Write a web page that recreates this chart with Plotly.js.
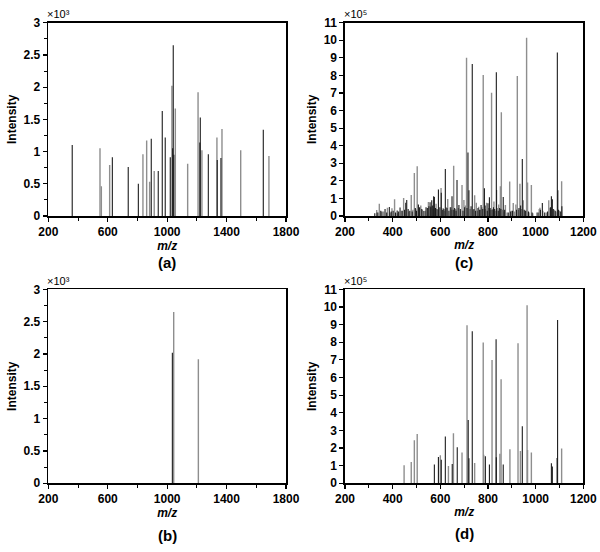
<!DOCTYPE html>
<html>
<head>
<meta charset="utf-8">
<script src="https://cdn.plot.ly/plotly-3.0.1.min.js"></script>
<style>html,body{margin:0;padding:0;background:#fff;}#chart{width:600px;height:552px;}</style>
</head>
<body>
<div id="chart"></div>
<script>
// ---- Panel (a): intensity ×10^3 ----
var aDarkMz  = [361, 631, 738, 806, 893, 940, 967, 987, 1021, 1037, 1041, 1045, 1220, 1223, 1277, 1337, 1362, 1647];
var aDarkInt = [1.10, 0.91, 0.76, 0.50, 1.20, 0.70, 1.63, 1.22, 0.91, 1.05, 2.65, 0.95, 1.14, 1.53, 0.96, 0.87, 0.90, 1.34];
var aGrayMz  = [548, 557, 613, 837, 862, 882, 913, 1032, 1055, 1138, 1208, 1234, 1335, 1369, 1495, 1685];
var aGrayInt = [1.05, 0.46, 0.79, 0.96, 1.17, 0.53, 0.70, 2.02, 1.67, 0.81, 1.92, 1.02, 1.22, 1.35, 1.02, 0.93];

// ---- Panel (b): intensity ×10^3 ----
var bDarkMz  = [1035];
var bDarkInt = [2.02];
var bGrayMz  = [1044, 1210];
var bGrayInt = [2.65, 1.92];

// ---- Panel (c): intensity ×10^5 ----
var cGrayMz  = [333, 340, 344, 362, 378, 390, 397, 408, 420, 437, 446, 468, 478, 485, 491, 497, 503, 518, 525, 537, 545, 550, 560, 570, 582, 590, 603, 612, 617, 625, 631, 641, 646, 656, 664, 676, 685, 691, 699, 705, 710, 725, 738, 744, 751, 756, 761, 768, 775, 780, 790, 794, 803, 811, 815, 820, 825, 830, 841, 845, 852, 856, 860, 868, 873, 880, 891, 898, 906, 912, 917, 923, 928, 934, 940, 948, 955, 962, 966, 972, 982, 988, 1005, 1015, 1018, 1030, 1045, 1055, 1060, 1078, 1085, 1100, 1109];
var cGrayInt = [0.34, 0.20, 0.70, 0.25, 0.47, 0.20, 0.44, 0.95, 0.15, 0.30, 1.02, 0.25, 1.20, 0.35, 2.45, 0.40, 2.83, 0.60, 0.35, 0.30, 0.45, 0.80, 0.55, 0.40, 0.70, 0.35, 1.59, 0.45, 0.30, 0.50, 0.97, 0.50, 0.35, 2.86, 0.40, 0.45, 0.30, 1.77, 0.91, 0.60, 9.00, 0.40, 0.35, 1.18, 0.76, 0.30, 0.53, 0.35, 0.50, 8.02, 0.40, 0.76, 0.45, 0.35, 7.02, 0.40, 0.82, 0.30, 0.45, 0.66, 1.69, 5.90, 0.35, 0.25, 0.63, 0.20, 1.96, 0.30, 0.74, 0.25, 0.66, 7.97, 0.35, 1.84, 0.40, 0.89, 0.30, 10.15, 1.90, 0.20, 1.77, 0.15, 0.20, 0.40, 0.47, 0.30, 0.20, 0.89, 0.45, 0.35, 0.25, 0.30, 1.98];
var cDarkMz  = [325, 335, 350, 355, 368, 375, 386, 394, 402, 412, 419, 425, 431, 440, 450, 455, 459, 465, 472, 482, 495, 500, 508, 513, 522, 531, 540, 547, 552, 557, 560, 564, 568, 572, 575, 580, 586, 592, 598, 604, 610, 615, 621, 628, 636, 644, 649, 654, 660, 666, 670, 678, 684, 695, 702, 712, 716, 720, 729, 734, 741, 748, 758, 765, 771, 778, 785, 788, 797, 800, 806, 809, 817, 823, 828, 835, 836, 843, 849, 854, 864, 870, 885, 895, 903, 920, 930, 937, 944, 952, 958, 970, 985, 1010, 1020, 1028, 1038, 1050, 1062, 1066, 1070, 1074, 1082, 1091, 1093, 1096, 1105, 1110];
var cDarkInt = [0.15, 0.20, 0.30, 0.25, 0.40, 0.20, 0.51, 0.25, 0.30, 0.20, 0.32, 0.25, 0.49, 0.30, 0.35, 0.76, 0.91, 0.40, 0.30, 0.25, 0.45, 0.30, 0.65, 0.50, 0.40, 0.28, 0.50, 0.45, 0.55, 0.78, 0.50, 0.90, 0.60, 1.12, 1.08, 0.45, 0.40, 1.51, 0.50, 1.33, 0.35, 0.40, 2.67, 0.45, 0.30, 0.50, 1.12, 0.35, 0.45, 0.30, 2.05, 0.63, 0.40, 0.30, 0.50, 0.45, 3.62, 1.46, 0.55, 8.65, 0.40, 0.30, 0.45, 0.35, 0.63, 0.40, 1.58, 0.60, 0.30, 0.72, 1.06, 0.45, 0.35, 0.50, 0.40, 8.18, 1.48, 0.30, 0.45, 0.40, 1.08, 0.35, 0.20, 0.25, 0.30, 0.35, 0.45, 0.60, 3.24, 0.35, 0.30, 0.25, 0.20, 0.20, 0.35, 0.74, 0.20, 0.25, 0.50, 1.13, 0.96, 0.40, 0.30, 9.30, 1.46, 0.35, 0.25, 0.55];

// ---- Panel (d): intensity ×10^5 ----
var dGrayMz  = [448, 478, 491, 503, 600, 634, 655, 691, 712, 744, 780, 782, 817, 850, 855, 892, 926, 936, 964, 966, 982, 1109];
var dGrayInt = [1.02, 1.21, 2.44, 2.80, 1.59, 0.98, 2.84, 1.74, 8.96, 1.15, 7.98, 1.62, 6.99, 1.68, 5.90, 1.93, 7.94, 1.83, 10.09, 1.88, 1.74, 1.97];
var dDarkMz  = [575, 592, 604, 621, 650, 671, 717, 720, 734, 789, 806, 834, 835, 864, 944, 1066, 1070, 1090, 1092];
var dDarkInt = [1.06, 1.49, 1.34, 2.65, 1.10, 2.04, 3.59, 1.42, 8.62, 1.53, 1.06, 8.17, 1.47, 1.06, 3.23, 1.13, 0.95, 1.44, 9.26];

// labels
var panelLabels = ['(a)', '(b)', '(c)', '(d)'];
var xLabel = 'm/z';
var yLabel = 'Intensity';
var expA = '×10³';
var expC = '×10⁵';

var DARK = '#1c1c1c', GRAY = '#8e8e8e';

function stems(mz, it, color, xa, ya, w) {
  var x = [], y = [];
  for (var i = 0; i < mz.length; i++) { x.push(mz[i], mz[i], null); y.push(0, it[i], null); }
  return {type: 'scatter', mode: 'lines', x: x, y: y, xaxis: xa, yaxis: ya,
          line: {color: color, width: w}, hoverinfo: 'skip', showlegend: false, connectgaps: false};
}

var traces = [
  stems(aGrayMz, aGrayInt, GRAY, 'x', 'y', 1.4),
  stems(aDarkMz, aDarkInt, DARK, 'x', 'y', 1.1),
  stems(cGrayMz, cGrayInt, GRAY, 'x2', 'y2', 1.4),
  stems(cDarkMz, cDarkInt, DARK, 'x2', 'y2', 1.1),
  stems(bGrayMz, bGrayInt, GRAY, 'x3', 'y3', 1.4),
  stems(bDarkMz, bDarkInt, DARK, 'x3', 'y3', 1.1),
  stems(dGrayMz, dGrayInt, GRAY, 'x4', 'y4', 1.4),
  stems(dDarkMz, dDarkInt, DARK, 'x4', 'y4', 1.1)
];

var FONT = 'Liberation Sans, Arial, sans-serif';
var tickFont = {family: FONT, size: 12, color: '#000', weight: 'bold'};

function xax(domain, range, dtick, minorD, anchor) {
  return {domain: domain, range: range, anchor: anchor, dtick: dtick, tick0: range[0],
          showgrid: false, zeroline: false, showline: true, linecolor: '#000', linewidth: 1.6, mirror: true,
          ticks: 'outside', ticklen: 4, tickwidth: 1.2, tickcolor: '#000',
          minor: {dtick: minorD, tick0: range[0], ticks: 'outside', ticklen: 3, tickwidth: 1, tickcolor: '#000', showgrid: false},
          tickfont: tickFont, fixedrange: true,
          title: {text: xLabel, font: {family: FONT, size: 12, color: '#000', weight: 'bold', style: 'italic'}, standoff: 2}};
}
function yax(domain, range, dtick, minorD, anchor) {
  var a = {domain: domain, range: range, anchor: anchor, dtick: dtick, tick0: 0,
          showgrid: false, zeroline: false, showline: true, linecolor: '#000', linewidth: 1.6, mirror: true,
          ticks: 'outside', ticklen: 4, tickwidth: 1.2, tickcolor: '#000',
          tickfont: tickFont, fixedrange: true,
          title: {text: yLabel, font: {family: FONT, size: 12, color: '#000', weight: 'bold'}, standoff: 4}};
  if (minorD) a.minor = {dtick: minorD, tick0: 0, ticks: 'outside', ticklen: 3, tickwidth: 1, tickcolor: '#000', showgrid: false};
  return a;
}

var leftX = [0.0805, 0.4767], rightX = [0.575, 0.9722];
var topY = [0.6087, 0.9589], botY = [0.1245, 0.4759];

function note(text, px, py, anchor, size, weight) {
  return {text: text, x: px / 600, y: 1 - py / 552, xref: 'paper', yref: 'paper', xanchor: anchor, yanchor: 'middle',
          showarrow: false, font: {family: FONT, size: size, color: '#000', weight: weight}};
}

var layout = {
  width: 600, height: 552,
  margin: {l: 0, r: 0, t: 0, b: 0},
  paper_bgcolor: '#fff', plot_bgcolor: '#fff',
  showlegend: false,
  xaxis:  xax(leftX,  [200, 1800], 400, 200, 'y'),
  yaxis:  yax(topY,   [0, 3], 0.5, 0.25, 'x'),
  xaxis2: xax(rightX, [200, 1200], 200, 100, 'y2'),
  yaxis2: yax(topY,   [0, 11], 1, null, 'x2'),
  xaxis3: xax(leftX,  [200, 1800], 400, 200, 'y3'),
  yaxis3: yax(botY,   [0, 3], 0.5, 0.25, 'x3'),
  xaxis4: xax(rightX, [200, 1200], 200, 100, 'y4'),
  yaxis4: yax(botY,   [0, 11], 1, null, 'x4'),
  annotations: [
    note(expA, 45, 14, 'left', 11, 'normal'),
    note(expC, 342, 14, 'left', 11, 'normal'),
    note(expA, 45, 281, 'left', 11, 'normal'),
    note(expC, 342, 281, 'left', 11, 'normal'),
    note(panelLabels[0], 167, 262, 'center', 15, 'bold'),
    note(panelLabels[2], 464, 262, 'center', 15, 'bold'),
    note(panelLabels[1], 167, 535, 'center', 15, 'bold'),
    note(panelLabels[3], 464, 533, 'center', 15, 'bold')
  ]
};

Plotly.newPlot('chart', traces, layout, {staticPlot: true, displayModeBar: false});
</script>
</body>
</html>
